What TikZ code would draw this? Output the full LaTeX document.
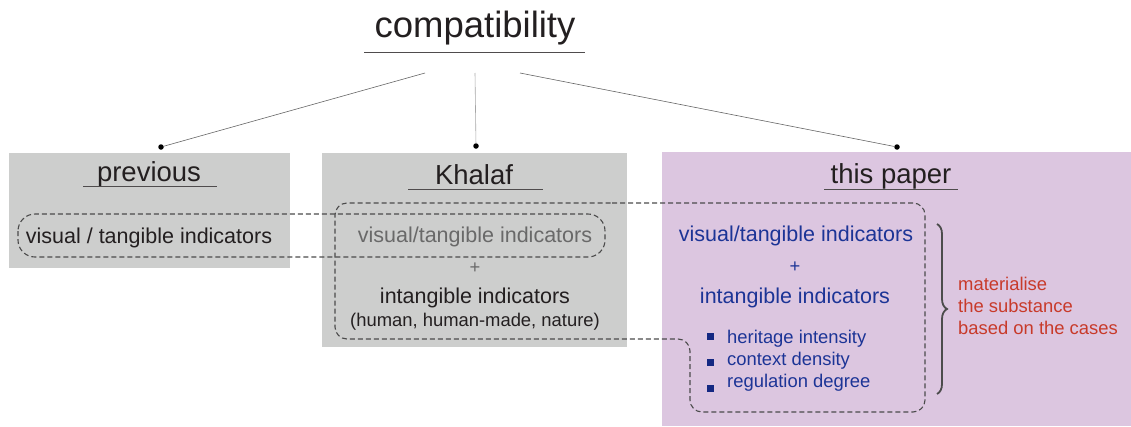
\documentclass[tikz,border=0pt]{standalone}
\usepackage{fontspec}
\setmainfont{Liberation Sans}
\usetikzlibrary{decorations.pathreplacing}
\definecolor{boxgrey}{RGB}{205,206,205}
\definecolor{boxpurple}{RGB}{220,198,224}
\definecolor{txtdark}{RGB}{35,31,32}
\definecolor{txtgrey}{RGB}{105,105,105}
\definecolor{txtblue}{RGB}{28,52,150}
\definecolor{bulletblue}{RGB}{20,40,130}
\definecolor{txtred}{RGB}{200,58,42}
\definecolor{dashgrey}{RGB}{75,75,75}
\tikzset{
  greybox/.style={fill=boxgrey, draw=none, inner sep=0pt},
  purplebox/.style={fill=boxpurple, draw=none, inner sep=0pt},
  title/.style={font=\fontsize{27.5}{30}\selectfont, text=txtdark, anchor=base, inner sep=0pt},
  bigtitle/.style={font=\fontsize{36.5}{40}\selectfont, text=txtdark, anchor=base, inner sep=0pt},
  mid/.style={font=\fontsize{21.5}{24}\selectfont, anchor=base, inner sep=0pt},
  small/.style={font=\fontsize{18.4}{21}\selectfont, anchor=base, inner sep=0pt},
  uline/.style={draw=txtdark!80, line width=0.8pt},
  dashline/.style={draw=dashgrey, line width=1.1pt, dash pattern=on 5pt off 3pt},
  leader/.style={draw=black!70, line width=0.6pt},
  dotnode/.style={circle, fill=black, inner sep=0pt, minimum size=5.5pt},
  bulletnode/.style={fill=bulletblue, inner sep=0pt, minimum size=7pt},
}
\begin{document}
\begin{tikzpicture}[x=1pt,y=-1pt]
\useasboundingbox (0,0) rectangle (1131,426);
% boxes
\node[greybox, minimum width=281pt, minimum height=115pt] (prevbox) at (149.5,210.5) {};
\node[greybox, minimum width=305pt, minimum height=194pt] (khbox) at (474.5,250) {};
\node[purplebox, minimum width=469pt, minimum height=274pt] (tpbox) at (896.5,289) {};
% title
\node[bigtitle] (compat) at (475,37) {compatibility};
\draw[uline] (364,52) -- (585,52);
% leaders
\coordinate (cl) at (425,73);
\coordinate (cm) at (475,73);
\coordinate (cr) at (520,73);
\node[dotnode] (dprev) at (161,147) {};
\node[dotnode] (dkh) at (476,146) {};
\node[dotnode] (dtp) at (897,147) {};
\draw[leader, draw=black!60] (cl) -- (dprev);
\draw[leader, draw=black!35] (cm) -- (dkh);
\draw[leader, draw=black!60] (cr) -- (dtp);
% section titles
\node[title] (tprev) at (149,181) {previous};
\draw[uline] (83,186) -- (217,186);
\node[title] (tkh) at (474,184) {Khalaf};
\draw[uline] (408,189) -- (543,189);
\node[title] (ttp) at (891,183) {this paper};
\draw[uline] (824,189) -- (958,189);
% previous content
\node[mid, text=txtdark] (pvis) at (149,243) {visual / tangible indicators};
% Khalaf content
\node[mid, text=txtgrey] (kvis) at (475,242) {visual/tangible indicators};
\node[small, text=txtgrey] (kplus) at (475,273) {+};
\node[mid, text=txtdark] (kint) at (475,303) {intangible indicators};
\node[small, text=txtdark] (khum) at (475,326) {(human, human-made, nature)};
% this paper content
\node[mid, text=txtblue] (tvis) at (796,241) {visual/tangible indicators};
\node[small, text=txtblue] (tplus) at (795,272) {+};
\node[mid, text=txtblue] (tint) at (795,303) {intangible indicators};
\node[bulletnode] (b1) at (710,336) {};
\node[bulletnode] (b2) at (710,362) {};
\node[bulletnode] (b3) at (710,388) {};
\node[small, text=txtblue, anchor=base west] (l1) at (727,343) {heritage intensity};
\node[small, text=txtblue, anchor=base west] (l2) at (727,365) {context density};
\node[small, text=txtblue, anchor=base west] (l3) at (727,387) {regulation degree};
% brace
\coordinate (bt) at (937,224);
\coordinate (bb) at (937,394);
\draw[draw=black!70, line width=1.8pt, decorate, decoration={brace, amplitude=10pt}] (bt) -- (bb);
\node[small, text=txtred, anchor=base west] (r1) at (958,290) {materialise};
\node[small, text=txtred, anchor=base west] (r2) at (958,312) {the substance};
\node[small, text=txtred, anchor=base west] (r3) at (958,334) {based on the cases};
% dashed outlines
\draw[dashline, rounded corners=17pt] (18,214) rectangle (605,257);
\draw[dashline, rounded corners=12pt] (600,203) -- (925,203) -- (925,412) -- (690,412) -- (690,339) -- (335,339) -- (335,203) -- cycle;
\end{tikzpicture}
\end{document}
